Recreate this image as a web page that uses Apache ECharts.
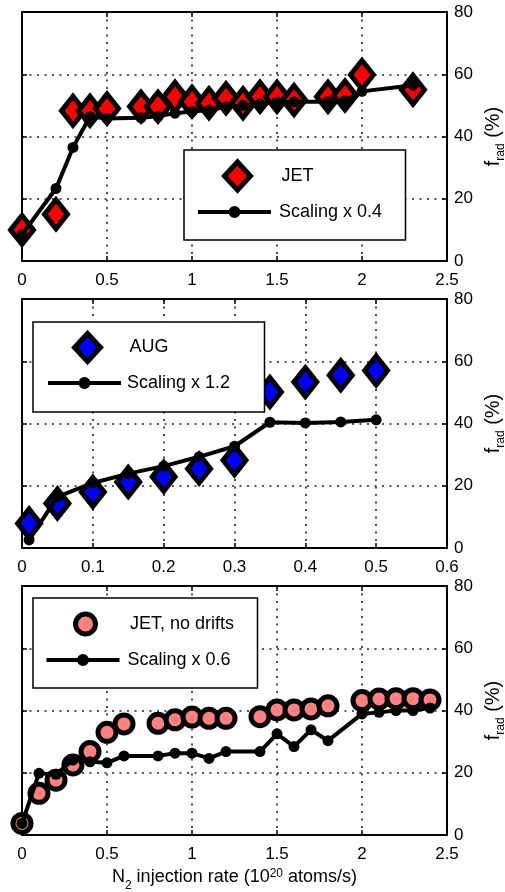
<!DOCTYPE html>
<html>
<head>
<meta charset="utf-8">
<script src="https://cdn.jsdelivr.net/npm/echarts@6/dist/echarts.min.js"></script>
<style>
  html, body { margin: 0; padding: 0; background: #fff; }
  #chart { width: 505px; height: 892px; }
</style>
</head>
<body>
<div id="chart"></div>
<script>
// N2 injection rate (1e20 atoms/s) vs radiated power fraction f_rad (%)

// Panel 1: JET
const jetRate      = [0, 0.2, 0.3, 0.4, 0.5, 0.7, 0.8, 0.9, 1.0, 1.1, 1.2, 1.3, 1.4, 1.5, 1.6, 1.8, 1.9, 2.0, 2.3];
const jetFrad      = [10, 15, 48.3, 48.3, 49, 49.6, 49.6, 52.8, 51.2, 50.7, 52.3, 50.7, 52.8, 52.8, 51.7, 52.8, 53.2, 59.8, 55];
const jetScaling   = [8.5, 23.3, 36.5, 46.4, 45.8, 46, 46.5, 47.5, 48, 48.5, 49.5, 50, 50.5, 51, 51.2, 51.2, 51.5, 54.5, 56.5];

// Panel 2: AUG
const augRate      = [0.01, 0.05, 0.1, 0.15, 0.2, 0.25, 0.3, 0.35, 0.4, 0.45, 0.5];
const augFrad      = [7.9, 14.3, 18, 21.2, 22.9, 25.5, 28.2, 50.1, 53.3, 55.5, 57];
const augScaling   = [2.6, 16.4, 20.9, 23.9, 26.3, 29.3, 32.7, 40.4, 40.2, 40.5, 41.2];

// Panel 3: JET without drifts
const ndRate       = [0, 0.1, 0.2, 0.3, 0.4, 0.5, 0.6, 0.8, 0.9, 1.0, 1.1, 1.2, 1.4, 1.5, 1.6, 1.7, 1.8, 2.0, 2.1, 2.2, 2.3, 2.4];
const ndFrad       = [3.7, 13.4, 17.6, 22.5, 26.8, 33, 35.7, 35.9, 37, 37.9, 37.5, 37.5, 38, 40.2, 40.2, 40.5, 41.5, 43.2, 43.7, 43.8, 43.8, 43.4];
const ndScaling    = [3.7, 19.8, 19.5, 24.1, 23.5, 23.2, 25.4, 25.4, 26.3, 26.3, 24.6, 26.8, 26.8, 32.5, 28.4, 33.8, 30.3, 38.9, 39.4, 40, 40, 40.8];

// Axis ranges and legend texts
const xMaxes       = [2.5, 0.6, 2.5];
const xSteps       = [0.5, 0.1, 0.5];
const yTicks       = [0, 20, 40, 60, 80];
const seriesNames  = ['JET', 'Scaling x 0.4', 'AUG', 'Scaling x 1.2', 'JET, no drifts', 'Scaling x 0.6'];

const FONT = '"Liberation Sans", Arial, Helvetica, sans-serif';
const LEGEND_FONT_SIZE = 18;
const pairs = (xs, ys) => xs.map((x, i) => [x, ys[i]]);

const gridTops = [12, 299, 586];
const grids = gridTops.map(t => ({
  left: 22, top: t, width: 425, height: 249, show: false,
  containLabel: false, outerBoundsMode: 'none'
}));

const dotted = { show: true, lineStyle: { color: '#222', width: 1.6, type: [2, 5.5] } };
const tickIn = { show: true, inside: true, length: 5, lineStyle: { color: '#000', width: 1.5 } };
const frameLine = { show: true, onZero: false, lineStyle: { color: '#000', width: 2 } };

const xAxes = [];
const yAxes = [];
for (let g = 0; g < 3; g++) {
  const ax = {
    type: 'value', gridIndex: g, min: 0, max: xMaxes[g], interval: xSteps[g], position: 'bottom',
    axisLine: frameLine, axisTick: tickIn, splitLine: dotted,
    axisLabel: { color: '#000', fontSize: 17, fontFamily: FONT, margin: 11 }
  };
  if (g === 2) {
    ax.name = '{t|N}{s|2}{t| injection rate (10}{u|20}{t| atoms/s)}';
    ax.nameLocation = 'middle';
    ax.nameGap = 33;
    ax.nameTextStyle = {
      rich: {
        t: { fontSize: 18, fontFamily: FONT, color: '#000', lineHeight: 22, verticalAlign: 'top' },
        s: { fontSize: 12, fontFamily: FONT, color: '#000', lineHeight: 12, padding: [12, 0, 0, 0], verticalAlign: 'top' },
        u: { fontSize: 12, fontFamily: FONT, color: '#000', lineHeight: 12, verticalAlign: 'top' }
      }
    };
  }
  xAxes.push(ax);
  yAxes.push({
    type: 'value', gridIndex: g, min: 0, max: 80, interval: 20, position: 'right',
    axisLine: frameLine, axisTick: tickIn, splitLine: dotted,
    axisLabel: { color: '#000', fontSize: 17, fontFamily: FONT, margin: 7,
                 formatter: v => (yTicks.indexOf(v) >= 0 ? String(v) : '') },
    name: '{f|f}{s|rad}{f| (%)}',
    nameLocation: 'middle', nameRotate: 90, nameGap: 32,
    nameTextStyle: {
      rich: {
        f: { fontSize: 20, fontFamily: FONT, color: '#000', lineHeight: 22, verticalAlign: 'top' },
        s: { fontSize: 12, fontFamily: FONT, color: '#000', lineHeight: 12, padding: [11, 0, 0, 0], verticalAlign: 'top' }
      }
    }
  });
}
// mirrored top / left axes close the box and carry inward ticks
for (let g = 0; g < 3; g++) {
  xAxes.push({ type: 'value', gridIndex: g, min: 0, max: xMaxes[g], interval: xSteps[g], position: 'top',
               axisLine: frameLine, axisTick: tickIn, axisLabel: { show: false }, splitLine: { show: false } });
  yAxes.push({ type: 'value', gridIndex: g, min: 0, max: 80, interval: 20, position: 'left',
               axisLine: frameLine, axisTick: tickIn, axisLabel: { show: false }, splitLine: { show: false } });
}

function markerSeries(name, g, data, symbol, size, fill) {
  return {
    name, type: 'scatter', xAxisIndex: g, yAxisIndex: g, data, symbol, symbolSize: size,
    clip: false, z: 2,
    itemStyle: { color: fill, borderColor: '#000', borderWidth: 5, opacity: 1 }
  };
}
function scalingSeries(name, g, data) {
  return {
    name, type: 'line', xAxisIndex: g, yAxisIndex: g, data, symbol: 'circle', symbolSize: 11,
    showSymbol: true, clip: false, z: 3, animation: false,
    lineStyle: { color: '#000', width: 4 },
    itemStyle: { color: '#000', borderWidth: 0 }
  };
}

// legend glyph for the scaling lines: bar with a dot, in a box w x h
function lineIcon(w, h) {
  const c = h / 2, r = 6, cx = w / 2;
  return 'path://' +
    `M0,${c - 2} L${w},${c - 2} L${w},${c + 2} L0,${c + 2} Z ` +
    `M${cx - r},${c} A${r},${r} 0 1,1 ${cx + r},${c} A${r},${r} 0 1,1 ${cx - r},${c} Z ` +
    `M${cx},0 L${cx + 0.1},0 L${cx},0 Z M${cx},${h} L${cx + 0.1},${h} L${cx},${h} Z`;
}

// text width, used to size the framed legend box
const measureCtx = document.createElement('canvas').getContext('2d');
measureCtx.font = LEGEND_FONT_SIZE + 'px ' + FONT;
const textWidth = s => measureCtx.measureText(s).width;

// Each panel legend: a framed box holding the marker entry, plus the line entry in its second row
const LINE_W = 73, LINE_H = 26;
function panelLegends(p) {
  const padTop = p.row1 - p.mh / 2 - p.box[1];
  const padBottom = p.box[1] + p.box[3] - (p.row1 + p.mh / 2);
  const padLeft = p.mcx - p.mw / 2 - p.box[0];
  const textPadA = p.textX - (p.mcx + p.mw / 2) - 5;
  const padRight = p.box[2] - padLeft - p.mw - 5 - textPadA - textWidth(p.marker);
  const textPadB = p.textX - (p.lineX + LINE_W) - 5;
  const txt = { color: '#000', fontSize: LEGEND_FONT_SIZE, fontFamily: FONT };
  return [
    {
      left: p.box[0], top: p.box[1], orient: 'vertical', z: 4,
      padding: [padTop, padRight, padBottom, padLeft],
      itemWidth: p.mw, itemHeight: p.mh, selectedMode: false,
      backgroundColor: '#fff', borderColor: '#000', borderWidth: 1.5, borderRadius: 0,
      textStyle: Object.assign({ padding: [0, 0, 0, textPadA] }, txt),
      data: [{ name: p.marker, icon: p.icon,
               itemStyle: { color: p.fill, borderColor: '#000', borderWidth: 5 } }]
    },
    {
      left: p.lineX, top: p.row2 - LINE_H / 2, orient: 'vertical', z: 5, padding: 0,
      itemWidth: LINE_W, itemHeight: LINE_H, selectedMode: false,
      textStyle: Object.assign({ padding: [0, 0, 0, textPadB] }, txt),
      data: [{ name: p.line, icon: lineIcon(LINE_W, LINE_H), itemStyle: { color: '#000', borderWidth: 0 } }]
    }
  ];
}

const legends = [
  { box: [184, 150, 219, 85], mcx: 235, textX: 279, row1: 173.5, row2: 212, lineX: 198,
    mw: 26, mh: 28, icon: 'diamond', fill: '#ff0000', marker: seriesNames[0], line: seriesNames[1] },
  { box: [33, 322, 229, 85], mcx: 85, textX: 127, row1: 345, row2: 383, lineX: 48,
    mw: 26, mh: 28, icon: 'diamond', fill: '#0000ff', marker: seriesNames[2], line: seriesNames[3] },
  { box: [33, 598, 222, 85], mcx: 83, textX: 127.5, row1: 621.5, row2: 660, lineX: 46.5,
    mw: 20, mh: 20, icon: 'circle', fill: '#ff8080', marker: seriesNames[4], line: seriesNames[5] }
].flatMap(panelLegends);

const option = {
  animation: false,
  backgroundColor: '#fff',
  grid: grids,
  xAxis: xAxes,
  yAxis: yAxes,
  legend: legends,
  series: [
    markerSeries(seriesNames[0], 0, pairs(jetRate, jetFrad), 'diamond', [23, 29], '#ff0000'),
    scalingSeries(seriesNames[1], 0, pairs(jetRate, jetScaling)),
    markerSeries(seriesNames[2], 1, pairs(augRate, augFrad), 'diamond', [23, 29], '#0000ff'),
    scalingSeries(seriesNames[3], 1, pairs(augRate, augScaling)),
    markerSeries(seriesNames[4], 2, pairs(ndRate, ndFrad), 'circle', 18, '#ff8080'),
    scalingSeries(seriesNames[5], 2, pairs(ndRate, ndScaling))
  ]
};

const chart = echarts.init(document.getElementById('chart'), null, { renderer: 'canvas' });
chart.setOption(option);
</script>
</body>
</html>
